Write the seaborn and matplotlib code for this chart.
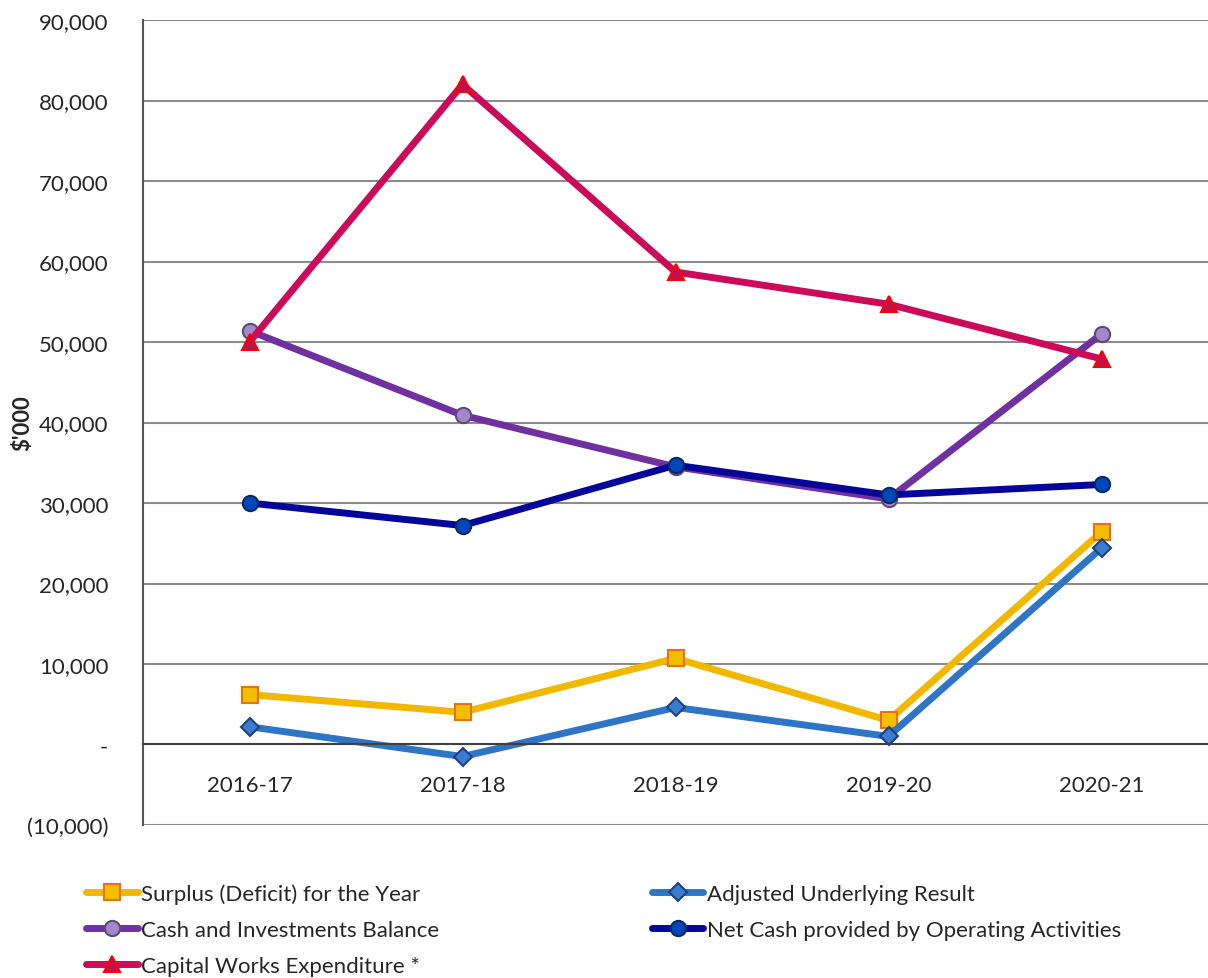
import matplotlib
matplotlib.use('Agg')
import matplotlib.pyplot as plt
import matplotlib.ticker as mticker
import seaborn as sns
import pandas as pd

years = ['2016-17', '2017-18', '2018-19', '2019-20', '2020-21']
surplus = [6200, 4000, 10700, 3000, 26400]
adjusted = [2200, -1500, 4600, 1000, 24400]
cash_balance = [51400, 40900, 34500, 30500, 51000]
net_cash = [30000, 27200, 34700, 31000, 32300]
capital_works = [50000, 82000, 58700, 54700, 47900]

series = [
    # name, values, line colour, marker, face, edge
    ('Surplus (Deficit) for the Year', surplus, '#F2B800', 's', '#F2BE00', '#E8700F'),
    ('Adjusted Underlying Result', adjusted, '#2E75C6', 'D', '#3A7DD0', '#1F3F80'),
    ('Cash and Investments Balance', cash_balance, '#7030A0', 'o', '#A288C8', '#5E4A7A'),
    ('Net Cash provided by Operating Activities', net_cash, '#06069A', 'o', '#0047BB', '#0A2A60'),
    ('Capital Works Expenditure *', capital_works, '#CC0A5A', '^', '#C0104E', '#FF0000'),
]

sns.set_style('white')
plt.rcParams['font.family'] = ['Lato', 'DejaVu Sans']

fig = plt.figure(figsize=(12.08, 9.79), dpi=100)
ax = fig.add_axes([0.1184, 0.1563, 0.8816, 0.8222])

handles = {}
for name, vals, col, mk, face, edge in series:
    df = pd.DataFrame({'year': years, 'value': vals})
    sns.lineplot(data=df, x='year', y='value', ax=ax, color=col, linewidth=5,
                 marker=mk, markersize=11 if mk != 'D' else 9,
                 markerfacecolor=face, markeredgecolor=edge, markeredgewidth=1.5)
    handles[name] = ax.lines[-1]

ax.set_xlim(-0.5, 4.5)
ax.set_ylim(-10000, 90000)
ax.yaxis.set_major_locator(mticker.MultipleLocator(10000))


def fmt(v, pos):
    if abs(v) < 1:
        return '-'
    if v < 0:
        return '({:,.0f})'.format(-v)
    return '{:,.0f}'.format(v)


ax.yaxis.set_major_formatter(mticker.FuncFormatter(fmt))
ax.grid(axis='y', color='#8C8C8C', linewidth=1.5)
ax.grid(axis='x', visible=False)
ax.set_axisbelow(True)

# category axis sits on the zero line, with ticks between categories
ax.spines['bottom'].set_position(('data', 0))
ax.spines['bottom'].set_color('#404040')
ax.spines['bottom'].set_linewidth(1.5)
ax.spines['left'].set_color('#555555')
ax.spines['left'].set_linewidth(1.5)
ax.spines['top'].set_visible(False)
ax.spines['right'].set_visible(False)

ax.set_xticks([0.5, 1.5, 2.5, 3.5])
ax.set_xticklabels([])
ax.set_xticks(range(len(years)), minor=True)
ax.set_xticklabels(years, minor=True)
ax.tick_params(axis='x', which='major', direction='out', length=8, width=1.5, color='#404040')
ax.tick_params(axis='x', which='minor', length=0, pad=22, labelsize=16)
ax.tick_params(axis='y', length=0, pad=25, labelsize=16)
for lab in ax.get_yticklabels():
    lab.set_horizontalalignment('right')

ax.set_xlabel('')
ax.set_ylabel("$'000", fontsize=16, fontweight='bold')
ax.yaxis.set_label_coords(-0.103, 0.5)

order = ['Surplus (Deficit) for the Year', 'Cash and Investments Balance',
         'Capital Works Expenditure *', 'Adjusted Underlying Result',
         'Net Cash provided by Operating Activities']
fig.legend([handles[n] for n in order], order, loc='upper left',
           bbox_to_anchor=(0.055, 0.117), ncol=2, frameon=False, fontsize=16,
           handlelength=2.3, handletextpad=0.15, columnspacing=9.6, labelspacing=0.72)

fig.savefig('out.png', dpi=100)
